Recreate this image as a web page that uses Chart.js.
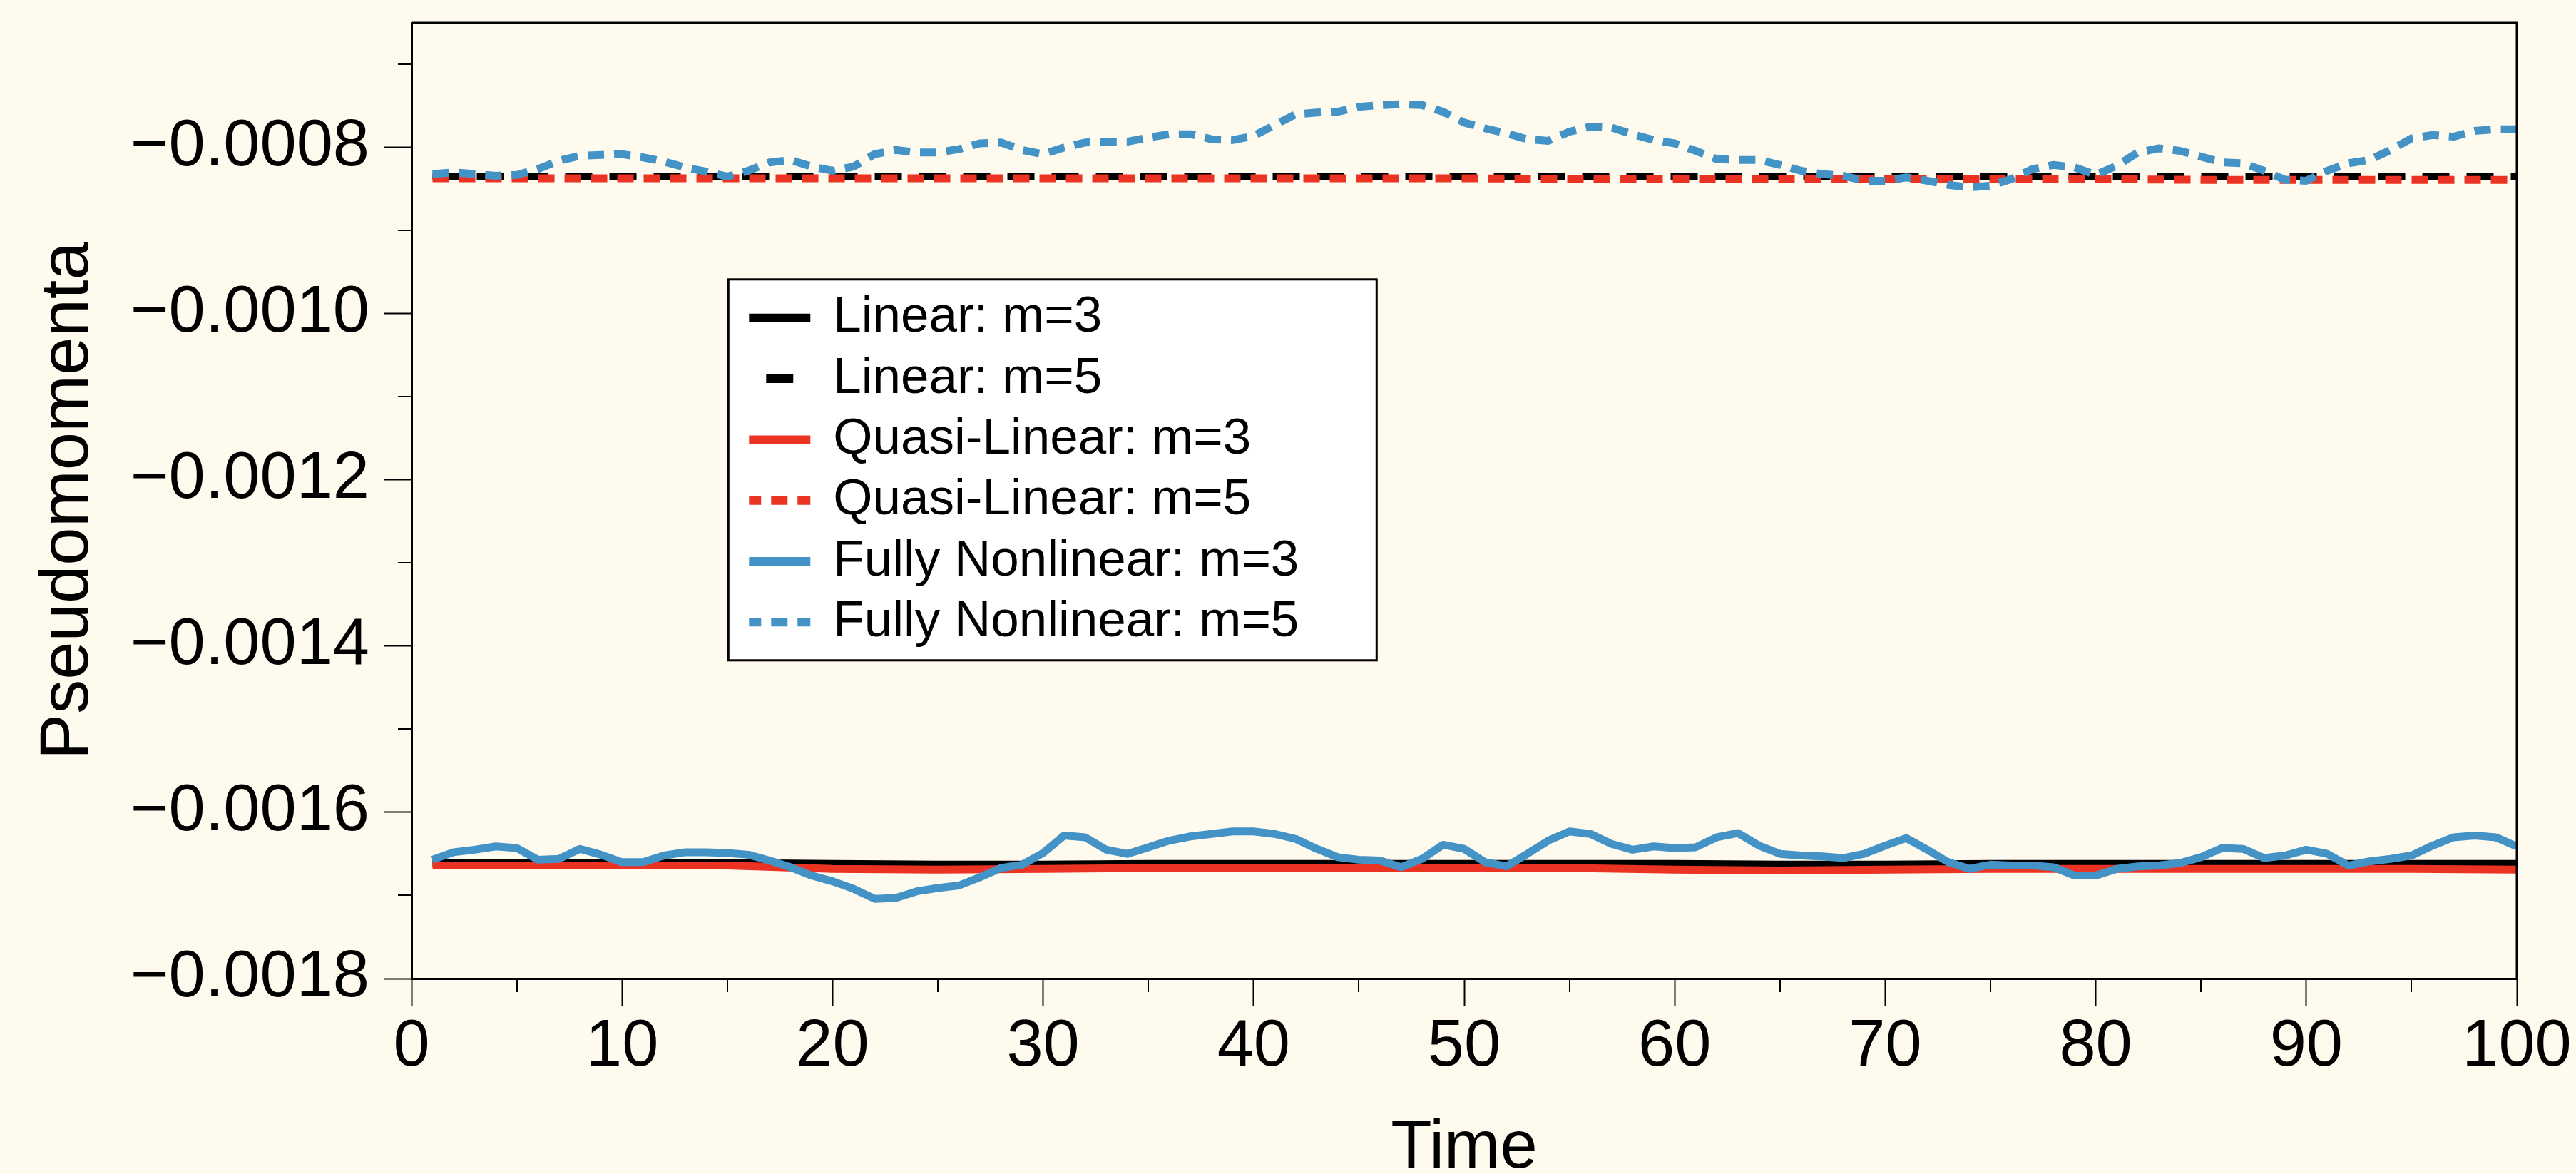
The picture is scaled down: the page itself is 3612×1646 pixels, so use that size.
<!DOCTYPE html>
<html>
<head>
<meta charset="utf-8">
<script src="https://cdn.jsdelivr.net/npm/chart.js@4.4.1/dist/chart.umd.min.js"></script>
<style>
  html, body { margin: 0; padding: 0; background: #FFFAEE; overflow: hidden; }
</style>
</head>
<body>
<canvas id="chart" width="3612" height="1646"></canvas>
<script>
// time samples for the nonlinear runs
const times = [1, 2, 3, 4, 5, 6, 7, 8, 9, 10, 11, 12, 13, 14, 15, 16, 17, 18, 19, 20,
  21, 22, 23, 24, 25, 26, 27, 28, 29, 30, 31, 32, 33, 34, 35, 36, 37, 38, 39, 40,
  41, 42, 43, 44, 45, 46, 47, 48, 49, 50, 51, 52, 53, 54, 55, 56, 57, 58, 59, 60,
  61, 62, 63, 64, 65, 66, 67, 68, 69, 70, 71, 72, 73, 74, 75, 76, 77, 78, 79, 80,
  81, 82, 83, 84, 85, 86, 87, 88, 89, 90, 91, 92, 93, 94, 95, 96, 97, 98, 99, 100];
// coarser samples for the (nearly flat) linear / quasi-linear runs
const flatTimes = [1, 5, 10, 15, 20, 25, 30, 35, 40, 45, 50, 55, 60, 65, 70, 75, 80, 85, 90, 95, 100];

const linearM3 = [-0.001661, -0.001661, -0.001661, -0.001661, -0.001662, -0.001663, -0.001663,
  -0.001662, -0.001662, -0.001662, -0.001662, -0.001662, -0.001662, -0.001663, -0.001663,
  -0.001662, -0.001662, -0.001662, -0.001662, -0.001662, -0.001662];
const linearM5 = [-0.000835, -0.000835, -0.000835, -0.000835, -0.000835, -0.000835, -0.000835,
  -0.000835, -0.000835, -0.000835, -0.000835, -0.000835, -0.000835, -0.000835, -0.000835,
  -0.000835, -0.000835, -0.000835, -0.000835, -0.000835, -0.000835];
const quasiM3 = [-0.001664, -0.001664, -0.001664, -0.001664, -0.001668, -0.001669, -0.001668,
  -0.001667, -0.001667, -0.001667, -0.001667, -0.001667, -0.001669, -0.001670, -0.001669,
  -0.001668, -0.001668, -0.001668, -0.001668, -0.001668, -0.001669];
const quasiM5 = [-0.000837, -0.000837, -0.000837, -0.000837, -0.000837, -0.000837, -0.000837,
  -0.000837, -0.000837, -0.000837, -0.000837, -0.000838, -0.000838, -0.000838, -0.000838,
  -0.000838, -0.000838, -0.000839, -0.000839, -0.000839, -0.000839];

const nonlinM3 = [-0.001657, -0.001648, -0.001645, -0.001641, -0.001643, -0.001657, -0.001656, -0.001644, -0.001651, -0.001660,
  -0.001660, -0.001652, -0.001648, -0.001648, -0.001649, -0.001651, -0.001658, -0.001666, -0.001676, -0.001683,
  -0.001692, -0.001704, -0.001703, -0.001695, -0.001691, -0.001688, -0.001678, -0.001667, -0.001663, -0.001649,
  -0.001628, -0.001630, -0.001645, -0.001650, -0.001642, -0.001634, -0.001629, -0.001626, -0.001623, -0.001623,
  -0.001626, -0.001632, -0.001644, -0.001654, -0.001657, -0.001658, -0.001666, -0.001656, -0.001639, -0.001644,
  -0.001660, -0.001665, -0.001650, -0.001634, -0.001623, -0.001626, -0.001638, -0.001645, -0.001641, -0.001643,
  -0.001642, -0.001630, -0.001625, -0.001640, -0.001650, -0.001652, -0.001653, -0.001655, -0.001650, -0.001640,
  -0.001631, -0.001645, -0.001660, -0.001668, -0.001663, -0.001664, -0.001664, -0.001666, -0.001676, -0.001676,
  -0.001668, -0.001665, -0.001664, -0.001661, -0.001654, -0.001643, -0.001644, -0.001655, -0.001652, -0.001645,
  -0.001650, -0.001664, -0.001659, -0.001656, -0.001652, -0.001640, -0.001630, -0.001628, -0.001630, -0.001641];
const nonlinM5 = [-0.000832, -0.000830, -0.000832, -0.000834, -0.000833, -0.000826, -0.000816, -0.000810, -0.000809, -0.000808,
  -0.000812, -0.000817, -0.000824, -0.000829, -0.000835, -0.000828, -0.000818, -0.000815, -0.000823, -0.000828,
  -0.000823, -0.000808, -0.000803, -0.000806, -0.000806, -0.000802, -0.000795, -0.000794, -0.000803, -0.000808,
  -0.000800, -0.000794, -0.000793, -0.000793, -0.000788, -0.000784, -0.000784, -0.000790, -0.000791, -0.000786,
  -0.000773, -0.000760, -0.000758, -0.000757, -0.000751, -0.000749, -0.000748, -0.000749, -0.000757, -0.000770,
  -0.000777, -0.000783, -0.000790, -0.000792, -0.000781, -0.000775, -0.000776, -0.000784, -0.000791, -0.000795,
  -0.000804, -0.000814, -0.000815, -0.000815, -0.000821, -0.000828, -0.000832, -0.000834, -0.000840, -0.000840,
  -0.000836, -0.000840, -0.000845, -0.000848, -0.000846, -0.000838, -0.000826, -0.000821, -0.000824, -0.000833,
  -0.000822, -0.000806, -0.000801, -0.000804, -0.000811, -0.000818, -0.000819, -0.000828, -0.000839, -0.000840,
  -0.000828, -0.000819, -0.000815, -0.000803, -0.000789, -0.000785, -0.000787, -0.000780, -0.000778, -0.000778];

// axis ticks
const xTicks = [0, 10, 20, 30, 40, 50, 60, 70, 80, 90, 100];
const xMinorTicks = [5, 15, 25, 35, 45, 55, 65, 75, 85, 95];
const yTicks = [-0.0018, -0.0016, -0.0014, -0.0012, -0.0010, -0.0008];
const yMinorTicks = [-0.0017, -0.0015, -0.0013, -0.0011, -0.0009, -0.0007];

const FONT = '"Liberation Sans", Arial, Helvetica, sans-serif';
const BG = '#FFFAEE';
const BLUE = '#4393C6';
const RED = '#EB3323';

const pts = (xs, ys) => xs.map((x, i) => ({ x, y: ys[i] }));

// background, frame, minor ticks and the inset legend
const decorations = {
  id: 'decorations',
  beforeDraw(chart) {
    const ctx = chart.ctx;
    ctx.save();
    ctx.fillStyle = BG;
    ctx.fillRect(0, 0, chart.width, chart.height);
    ctx.restore();
  },
  afterDraw(chart) {
    const { ctx, chartArea: a, scales: { x, y } } = chart;
    ctx.save();
    ctx.strokeStyle = '#000';
    ctx.lineWidth = 2;
    ctx.beginPath();
    xMinorTicks.forEach((v) => {
      const px = Math.round(x.getPixelForValue(v));
      ctx.moveTo(px, a.bottom);
      ctx.lineTo(px, a.bottom + 19);
    });
    yMinorTicks.forEach((v) => {
      const py = Math.round(y.getPixelForValue(v));
      ctx.moveTo(a.left, py);
      ctx.lineTo(a.left - 19, py);
    });
    ctx.stroke();

    // top + right of the box
    ctx.lineWidth = 3;
    ctx.beginPath();
    ctx.moveTo(a.left, a.top);
    ctx.lineTo(a.right, a.top);
    ctx.lineTo(a.right, a.bottom);
    ctx.stroke();

    // legend box inside the plot
    const lx = a.left + 0.1505 * (a.right - a.left);
    const ly = a.top + 0.2685 * (a.bottom - a.top);
    const lw = 909, lh = 534, rowH = 85.3;
    ctx.fillStyle = '#FFFFFF';
    ctx.fillRect(lx, ly, lw, lh);
    ctx.lineWidth = 3;
    ctx.strokeRect(lx, ly, lw, lh);
    ctx.font = '71px ' + FONT;
    ctx.textBaseline = 'middle';
    ctx.textAlign = 'left';
    chart.data.datasets.forEach((ds, i) => {
      const cy = ly + 54 + i * rowH;
      ctx.save();
      ctx.strokeStyle = ds.borderColor;
      ctx.lineWidth = 12;
      ctx.lineCap = 'butt';
      ctx.setLineDash(ds.borderDash || []);
      ctx.lineDashOffset = ds.legendDashOffset || 0;
      ctx.beginPath();
      ctx.moveTo(lx + 29, cy);
      ctx.lineTo(lx + 115, cy);
      ctx.stroke();
      ctx.restore();
      ctx.fillStyle = '#000';
      ctx.fillText(ds.label, lx + 147, cy);
    });
    ctx.restore();
  }
};

const line = (label, data, color, dash, order, extra = {}) => Object.assign({
  label, data, order,
  borderColor: color,
  backgroundColor: color,
  borderWidth: 11,
  borderDash: dash,
  borderCapStyle: 'butt',
  borderJoinStyle: 'round',
  pointRadius: 0,
  tension: 0,
  fill: false
}, extra);

new Chart(document.getElementById('chart'), {
  type: 'line',
  data: {
    datasets: [
      line('Linear: m=3', pts(flatTimes, linearM3), '#000000', [], 6),
      line('Linear: m=5', pts(flatTimes, linearM5), '#000000', [38, 24], 5, { legendDashOffset: 38 }),
      line('Quasi-Linear: m=3', pts(flatTimes, quasiM3), RED, [], 4),
      line('Quasi-Linear: m=5', pts(flatTimes, quasiM5), RED, [23, 14], 3, { legendDashOffset: 6 }),
      line('Fully Nonlinear: m=3', pts(times, nonlinM3), BLUE, [], 2),
      line('Fully Nonlinear: m=5', pts(times, nonlinM5), BLUE, [23, 14], 1, { legendDashOffset: 6 })
    ]
  },
  options: {
    responsive: false,
    devicePixelRatio: 1,
    animation: false,
    layout: { padding: { top: 32, right: 83, left: 0, bottom: 0 } },
    plugins: {
      legend: { display: false },
      tooltip: { enabled: false }
    },
    scales: {
      x: {
        type: 'linear',
        min: 0,
        max: 100,
        afterBuildTicks: (s) => { s.ticks = xTicks.map((v) => ({ value: v })); },
        afterFit: (s) => {
          s.height = 274;
          s.paddingLeft = 0;
          s.paddingRight = 0;
        },
        ticks: {
          font: { family: FONT, size: 92, lineHeight: 1.2 },
          color: '#000',
          padding: 3,
          maxRotation: 0,
          autoSkip: false
        },
        grid: { drawOnChartArea: false, tickLength: 38, tickWidth: 2, tickColor: '#000' },
        border: { color: '#000', width: 3 },
        title: {
          display: true,
          text: 'Time',
          color: '#000',
          font: { family: FONT, size: 94, lineHeight: 0.74 },
          padding: { top: 0, bottom: 0 }
        }
      },
      y: {
        type: 'linear',
        min: -0.0018,
        max: -0.00065,
        afterBuildTicks: (s) => { s.ticks = yTicks.map((v) => ({ value: v })); },
        afterFit: (s) => {
          s.width = 577;
          s.paddingTop = 0;
          s.paddingBottom = 0;
        },
        ticks: {
          font: { family: FONT, size: 92 },
          color: '#000',
          padding: 21,
          callback: (v) => '\u2212' + Math.abs(v).toFixed(4)
        },
        grid: { drawOnChartArea: false, tickLength: 38, tickWidth: 2, tickColor: '#000' },
        border: { color: '#000', width: 3 },
        title: {
          display: true,
          text: 'Pseudomomenta',
          color: '#000',
          font: { family: FONT, size: 96, lineHeight: 0.84 },
          padding: { top: 56, bottom: 0 }
        }
      }
    }
  },
  plugins: [decorations]
});
</script>
</body>
</html>
